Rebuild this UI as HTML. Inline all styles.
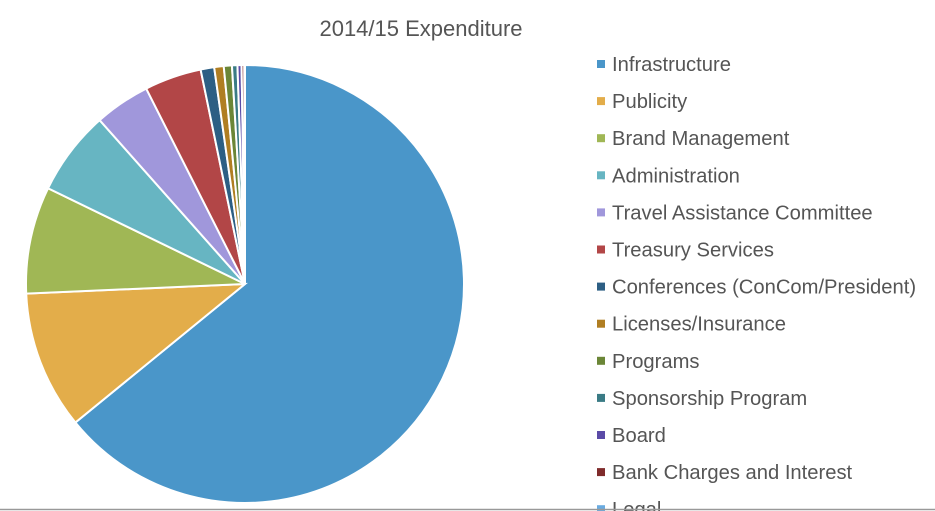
<!DOCTYPE html>
<html><head><meta charset="utf-8"><style>
body{margin:0;background:#fff;font-family:"Liberation Sans",sans-serif;}
svg{display:block}
</style></head><body>
<svg width="935" height="511">
<text x="421" y="36" text-anchor="middle" font-size="22" fill="#555">2014/15 Expenditure</text>
<g id="pie"></g>
<g id="legend"></g>
<line x1="0" y1="509.5" x2="935" y2="509.5" stroke="#999" stroke-width="1.5"/>
</svg>
<script>
const categories=["Infrastructure","Publicity","Brand Management","Administration","Travel Assistance Committee","Treasury Services","Conferences (ConCom/President)","Licenses/Insurance","Programs","Sponsorship Program","Board","Bank Charges and Interest","Legal"];
const values=[64.1,10.2,7.9,6.25,4.1,4.2,1.0,0.7,0.6,0.4,0.3,0.2,0.05];
const colors=["#4a96c9","#e3ad4a","#a0b755","#67b5c2","#a097db","#b24647","#2d5f84","#b07e22","#6b8637","#3a7b85","#5b4ba7","#7f2b2b","#6aabe0"];
const NS="http://www.w3.org/2000/svg";
const cx=245,cy=284,r=219;
const total=values.reduce((a,b)=>a+b,0);
const pie=document.getElementById('pie');
let a0=0;
function pt(a){return [cx+r*Math.sin(a),cy-r*Math.cos(a)];}
values.forEach((v,i)=>{
  const a1=a0+v/total*2*Math.PI;
  const p0=pt(a0),p1=pt(a1);
  const large=(a1-a0)>Math.PI?1:0;
  const p=document.createElementNS(NS,'path');
  p.setAttribute('d',`M${cx},${cy}L${p0[0]},${p0[1]}A${r},${r} 0 ${large} 1 ${p1[0]},${p1[1]}Z`);
  p.setAttribute('fill',colors[i]);
  p.setAttribute('stroke','#fff');
  p.setAttribute('stroke-width','2');
  
  
  pie.appendChild(p);
  a0=a1;
});
const lg=document.getElementById('legend');
categories.forEach((c,i)=>{
  const y=64+37.1*i;
  const g=document.createElementNS(NS,'g');
  
  
  const s=document.createElementNS(NS,'rect');
  s.setAttribute('x',597);s.setAttribute('y',y-4);s.setAttribute('width',8);s.setAttribute('height',8);
  s.setAttribute('fill',colors[i]);
  const t=document.createElementNS(NS,'text');
  t.setAttribute('x',612);t.setAttribute('y',y+7);t.setAttribute('font-size','20.2');t.setAttribute('fill','#555');
  t.textContent=c;
  g.appendChild(s);g.appendChild(t);lg.appendChild(g);
});
</script>
</body></html>
